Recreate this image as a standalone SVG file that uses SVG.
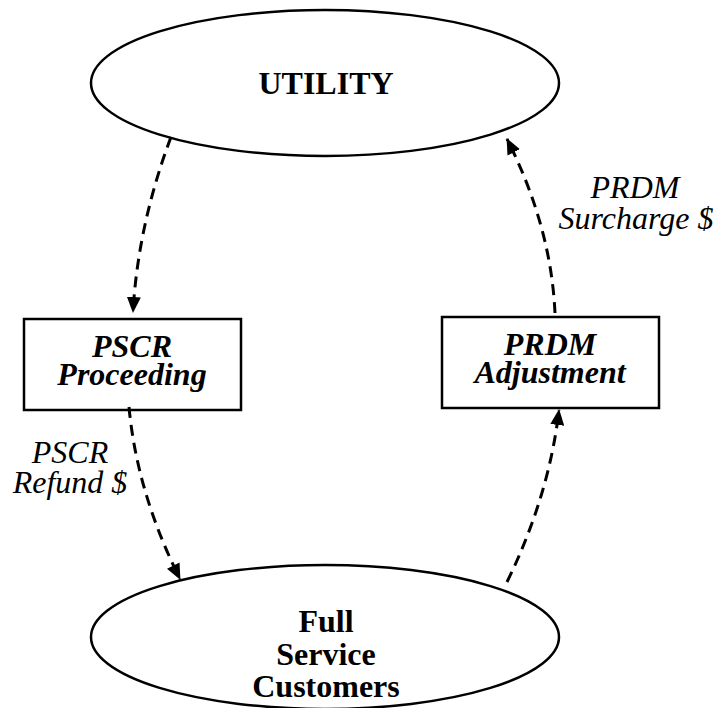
<svg xmlns="http://www.w3.org/2000/svg" width="713" height="708" viewBox="0 0 713 708">
<style>
.shape{fill:#fff;stroke:#000;stroke-width:2.5}
.node{font-family:"Liberation Serif","Times New Roman",serif;font-weight:bold;font-size:32px;fill:#000;text-anchor:middle}
.box{font-style:italic}
.lbl{font-family:"Liberation Serif","Times New Roman",serif;font-style:italic;font-size:32px;fill:#000;text-anchor:middle}
.conn{fill:none;stroke:#000;stroke-width:3;stroke-dasharray:11,7}
</style>
<defs>
<marker id="arr" viewBox="0 0 16 14" refX="15" refY="7" markerUnits="userSpaceOnUse" markerWidth="16" markerHeight="14" orient="auto">
<path d="M0,0 L16,7 L0,14 Z" fill="#000"/>
</marker>
</defs>
<rect width="713" height="708" fill="#fff"/>
<g id="utility">
<ellipse class="shape" cx="325" cy="83" rx="234" ry="73"/>
<text class="node" x="326" y="94">UTILITY</text>
</g>
<g id="customers">
<ellipse class="shape" cx="325" cy="637" rx="234" ry="72"/>
<text class="node" x="326" y="632">Full</text>
<text class="node" x="326" y="665">Service</text>
<text class="node" x="326" y="697">Customers</text>
</g>
<g id="pscr">
<rect class="shape" x="24" y="319" width="217" height="91"/>
<text class="node box" x="132" y="357">PSCR</text>
<text class="node box" x="132" y="385">Proceeding</text>
</g>
<g id="prdm">
<rect class="shape" x="442" y="317" width="217" height="91"/>
<text class="node box" x="550" y="355">PRDM</text>
<text class="node box" x="550" y="383">Adjustment</text>
</g>
<g id="connectors">
<path class="conn" d="M171,137 Q138,225 133,312" marker-end="url(#arr)"/>
<path class="conn" d="M129,407 Q137,493 180,579" marker-end="url(#arr)"/>
<path class="conn" d="M507,582 Q549,496 559,410" marker-end="url(#arr)"/>
<path class="conn" d="M555,313 Q551,226 507,139" marker-end="url(#arr)"/>
</g>
<g id="labels">
<text class="lbl" x="70" y="463">PSCR</text>
<text class="lbl" x="70" y="493">Refund $</text>
<text class="lbl" x="635" y="198">PRDM</text>
<text class="lbl" x="636" y="229">Surcharge $</text>
</g>
</svg>
